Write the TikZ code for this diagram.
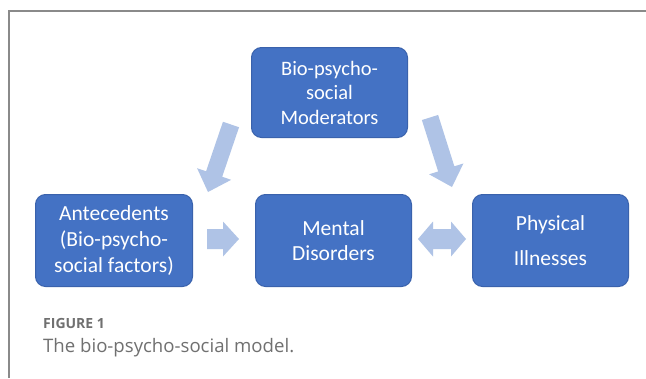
\documentclass[tikz,border=0pt]{standalone}
\usepackage{fontspec}
\setmainfont{Carlito}
\newfontfamily\capfont{Open Sans}
\usetikzlibrary{calc}
\definecolor{boxfill}{HTML}{4472C4}
\definecolor{boxline}{HTML}{3A62AC}
\definecolor{arrowfill}{HTML}{AFC3E6}
\definecolor{framegray}{HTML}{8A8A8A}
\definecolor{capgray}{HTML}{707070}
\tikzset{
  stagebox/.style={draw=boxline, line width=1pt, fill=boxfill, rounded corners=10pt,
    text=white, align=center, anchor=north west, inner sep=0pt},
  blockfill/.style={fill=arrowfill, draw=none},
}
% single block arrow from tail #1 to tip #2; shaft half width #3, head half width #4, head length #5
\newcommand\blockarrow[5]{%
  \fill[blockfill] (#1)
    -- ($(#1)!#3!90:(#2)$)
    -- ($($(#2)!#5!(#1)$)!#3!-90:(#1)$)
    -- ($($(#2)!#5!(#1)$)!#4!-90:(#1)$)
    -- (#2)
    -- ($($(#2)!#5!(#1)$)!#4!90:(#1)$)
    -- ($($(#2)!#5!(#1)$)!#3!90:(#1)$)
    -- ($(#1)!#3!-90:(#2)$) -- cycle;}
% double-headed block arrow between #1 and #2
\newcommand\twinarrow[5]{%
  \fill[blockfill] (#1)
    -- ($($(#1)!#5!(#2)$)!#4!90:(#2)$)
    -- ($($(#1)!#5!(#2)$)!#3!90:(#2)$)
    -- ($($(#2)!#5!(#1)$)!#3!-90:(#1)$)
    -- ($($(#2)!#5!(#1)$)!#4!-90:(#1)$)
    -- (#2)
    -- ($($(#2)!#5!(#1)$)!#4!90:(#1)$)
    -- ($($(#2)!#5!(#1)$)!#3!90:(#1)$)
    -- ($($(#1)!#5!(#2)$)!#3!-90:(#2)$)
    -- ($($(#1)!#5!(#2)$)!#4!-90:(#2)$) -- cycle;}
\begin{document}
\begin{tikzpicture}[x=1pt,y=-1pt]
  \useasboundingbox (0,0) rectangle (646,378);
  \fill[white] (0,0) rectangle (646,378);
  % frame
  \draw[framegray, line width=1.6pt] (9,378) -- (9,11) -- (646,11);
  % stages
  \node[stagebox, minimum width=156pt, minimum height=90pt,
        font=\fontsize{20.5}{24.5}\selectfont] (mod) at (251,47)
    {Bio-psycho-\\social\\Moderators};
  \node[stagebox, minimum width=157pt, minimum height=92pt,
        font=\fontsize{21.5}{26}\selectfont] (ante) at (35,194)
    {Antecedents\\(Bio-psycho-\\social factors)};
  \node[stagebox, minimum width=156pt, minimum height=92pt,
        font=\fontsize{21.5}{25}\selectfont] (ment) at (255,194)
    {Mental\\Disorders};
  \node[stagebox, minimum width=156pt, minimum height=92pt,
        font=\fontsize{21.5}{35}\selectfont] (phys) at (472,194)
    {Physical\\Illnesses};
  % arrow end points
  \coordinate (mlTail) at (231,124.5);
  \coordinate (mlTip) at (208,192);
  \coordinate (mrTail) at (430,117.5);
  \coordinate (mrTip) at (452,187);
  \coordinate (amTail) at (207,239);
  \coordinate (amTip) at (239,239);
  \coordinate (mpA) at (418,239);
  \coordinate (mpB) at (466,239);
  \blockarrow{mlTail}{mlTip}{8.5pt}{18pt}{19pt}
  \blockarrow{mrTail}{mrTip}{8.5pt}{18pt}{19pt}
  \blockarrow{amTail}{amTip}{10pt}{17.5pt}{16pt}
  \twinarrow{mpA}{mpB}{10pt}{17.5pt}{15pt}
  % caption
  \node[anchor=base west, inner sep=0pt, text=capgray, font=\capfont\fontsize{14}{14}\selectfont\bfseries]
    (figno) at (43,328) {FIGURE 1};
  \node[anchor=base west, inner sep=0pt, text=capgray, font=\capfont\fontsize{18.6}{20}\selectfont]
    (figcap) at (43,352) {The bio-psycho-social model.};
\end{tikzpicture}
\end{document}
